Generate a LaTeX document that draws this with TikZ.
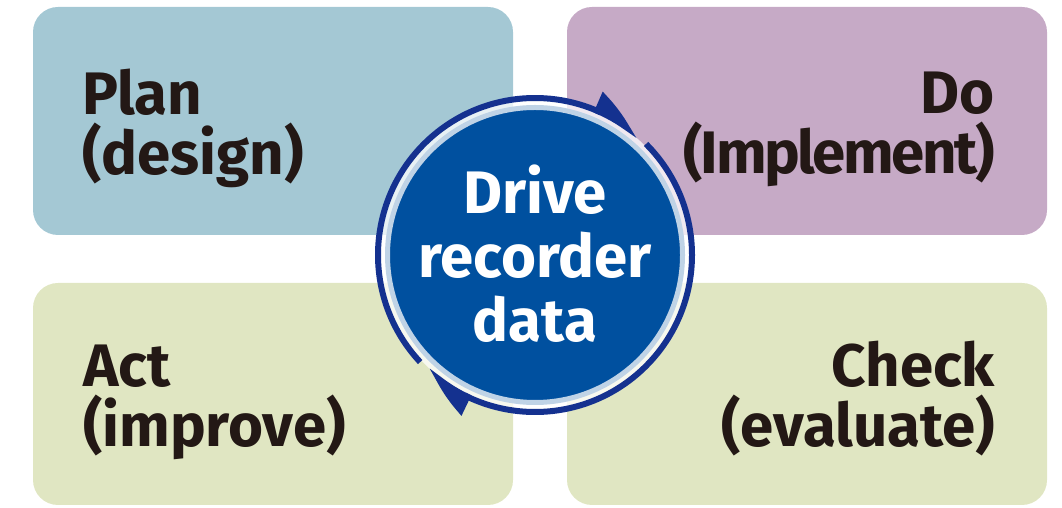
\documentclass[tikz,border=0pt]{standalone}
\usepackage{fontspec}
\setmainfont{Fira Sans}
\usetikzlibrary{shapes,arrows.meta,bending,calc}
\definecolor{plancol}{HTML}{A4C8D4}
\definecolor{docol}{HTML}{C6AAC6}
\definecolor{actcol}{HTML}{E0E6C2}
\definecolor{datacol}{HTML}{00509F}
\definecolor{ringcol}{HTML}{14318F}
\definecolor{txtcol}{HTML}{231815}
\tikzstyle{block} = [rectangle, rounded corners=25pt, minimum width=480pt, minimum height=228pt, inner sep=0pt]
\tikzstyle{boxtext} = [text=txtcol, inner sep=0pt, font={\fontsize{60pt}{60pt}\selectfont\bfseries}]
\tikzstyle{ring} = [draw=ringcol, line width=6pt, -{Triangle[length=45pt, width=38pt, left, bend]}]

\begin{document}
\begin{tikzpicture}[x=1pt, y=1pt, node distance=534pt]
    \useasboundingbox (0,0) rectangle (1062,508);
    \node [block, fill=plancol] (plan) at (273,387) {};
    \node [block, fill=docol, right of=plan] (do) {};
    \node [block, fill=actcol, minimum height=222pt, node distance=273pt, below of=plan] (act) {};
    \node [block, fill=actcol, minimum height=222pt, right of=act] (check) {};
    % the four steps
    \node [boxtext, anchor=base west, align=left] (plantxt) at ([xshift=49pt, yshift=-168pt]plan.north west) {Plan\\(design)};
    \node [boxtext, anchor=base east, align=right] (dotxt) at ([xshift=-52pt, yshift=-167pt]do.north east) {Do\\\addfontfeature{LetterSpace=-4}(Implement)};
    \node [boxtext, anchor=base west, align=left] (acttxt) at ([xshift=50pt, yshift=-164pt]act.north west) {Act\\(improve)};
    \node [boxtext, anchor=base east, align=right] (checktxt) at ([xshift=-52pt, yshift=-164pt]check.north east) {Check\\(evaluate)};
    % centre and cycle
    \node [circle, fill=datacol, draw=white, draw opacity=0.75, line width=10pt, minimum size=300pt, inner sep=0pt] (data) at (535,253) {};
    \node [boxtext, text=white, align=center, anchor=base, font={\fontsize{60pt}{64pt}\selectfont\bfseries}] (datatxt) at ([yshift=-87pt]data.center) {Drive\\recorder\\data};
    \draw [ring] ($(data)+(45:157pt)$) arc (45:-133:157pt);
    \draw [ring] ($(data)+(223:157pt)$) arc (223:49:157pt);
\end{tikzpicture}
\end{document}
